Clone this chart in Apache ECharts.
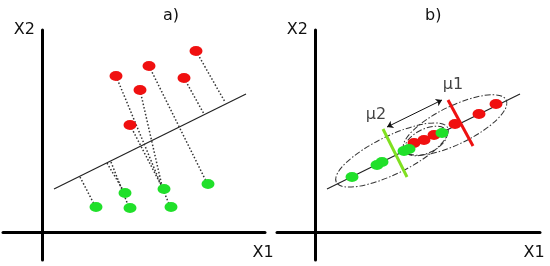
<!DOCTYPE html>
<html>
<head>
<meta charset="utf-8">
<script src="https://cdn.jsdelivr.net/npm/echarts@6/dist/echarts.min.js"></script>
<style>
  html, body { margin: 0; background: #fff; }
  #chart { width: 550px; height: 266px; }
</style>
</head>
<body>
<div id="chart"></div>
<script>
// X1 / X2 coordinates, origin where the two axes cross
// panel a)
var redA = [[154, 181], [142, 154], [107, 166], [98, 142], [74, 156], [88, 107]];
var greenA = [[54, 25], [83, 39], [88, 24], [122, 43], [129, 25], [166, 48]];
var lineA = [[12, 43], [204, 138]];
var dotsA = [
  [[154, 181], [183, 130]],
  [[142, 154], [162, 118]],
  [[107, 166], [164, 51]],
  [[98, 142], [120, 46]],
  [[74, 156], [127, 28]],
  [[88, 107], [119, 47]],
  [[38, 55], [52, 28]],
  [[65, 69], [81, 42]],
  [[69, 70], [86, 27]]
];

// panel b)
var redB = [[99, 89], [109, 92], [119, 97], [140, 108], [164, 118], [181, 128]];
var greenB = [[37, 55], [62, 67], [67, 70], [89, 81], [94, 83], [127, 99]];
var lineB = [[12, 43], [205, 138]];
var barGreenB = [[68, 103], [92, 55]];
var barRedB = [[133, 132], [158, 86]];
var arrowB = [[72, 105], [127, 132]];
var meanLabels = [{ name: "μ2", value: [61, 117] }, { name: "μ1", value: [138, 147] }];
// centre x, centre y, half length, half width, tilt in degrees
var ellipsesB = [[77, 77, 62, 19, 26], [140, 107, 57, 19, 26], [111, 91, 23, 12, 26]];

var axisNames = ["X1", "X2"];
var panelTitles = ["a)", "b)"];

var FONT = "DejaVu Sans";
var myChart = echarts.init(document.getElementById("chart"));

function xAx(idx, min, max, gap) {
  return {
    type: "value", gridIndex: idx, min: min, max: max,
    name: axisNames[0], nameLocation: "end", nameGap: gap,
    nameTextStyle: { fontFamily: FONT, fontSize: 16, color: "#111", align: "center", verticalAlign: "top", padding: [13, 0, 0, 0] },
    axisLine: { onZero: true, lineStyle: { color: "#000", width: 3 } },
    axisTick: { show: false }, axisLabel: { show: false }, splitLine: { show: false }
  };
}
function yAx(idx) {
  return {
    type: "value", gridIndex: idx, min: -28, max: 202,
    name: axisNames[1], nameLocation: "end", nameGap: 0,
    nameTextStyle: { fontFamily: FONT, fontSize: 16, color: "#111", align: "right", verticalAlign: "middle", padding: [0, 7, 0, 0] },
    axisLine: { onZero: true, lineStyle: { color: "#000", width: 3 } },
    axisTick: { show: false }, axisLabel: { show: false }, splitLine: { show: false }
  };
}
function seg(idx, pts, color, width, type, z) {
  return {
    type: "line", xAxisIndex: idx, yAxisIndex: idx, data: pts, symbol: "none",
    lineStyle: { color: color, width: width, type: type || "solid" }, silent: true, z: z || 2
  };
}
function dots(idx, pts, color, z) {
  return {
    type: "scatter", xAxisIndex: idx, yAxisIndex: idx, data: pts,
    symbol: "circle", symbolSize: [13, 10], itemStyle: { color: color, opacity: 1 }, silent: true, z: z || 5
  };
}

var option = {
  animation: false,
  title: [
    { text: panelTitles[0], left: 158, top: 3, textStyle: { fontFamily: FONT, fontSize: 16, fontWeight: "normal", color: "#111" } },
    { text: panelTitles[1], left: 420, top: 3, textStyle: { fontFamily: FONT, fontSize: 16, fontWeight: "normal", color: "#111" } }
  ],
  grid: [
    { left: 3, top: 30, width: 262, height: 230 },
    { left: 277, top: 30, width: 263, height: 230 }
  ],
  xAxis: [xAx(0, -39, 223, -2), xAx(1, -38, 225, -6)],
  yAxis: [yAx(0), yAx(1)],
  series: [
    seg(0, lineA, "#222", 1.2),
    {
      type: "lines", coordinateSystem: "cartesian2d", xAxisIndex: 0, yAxisIndex: 0,
      data: dotsA.map(function (c) { return { coords: c }; }),
      lineStyle: { color: "#333", width: 1.5, type: [1.5, 2], opacity: 1 }, silent: true, z: 3
    },
    dots(0, redA, "#f01010"),
    dots(0, greenA, "#20e02a"),

    {
      type: "custom", xAxisIndex: 1, yAxisIndex: 1, data: ellipsesB, silent: true, z: 3, clip: false,
      renderItem: function (params, api) {
        var c = api.coord([api.value(0), api.value(1)]);
        var s = api.size([api.value(2), api.value(3)]);
        return {
          type: "ellipse",
          x: c[0], y: c[1],
          rotation: api.value(4) * Math.PI / 180,
          shape: { cx: 0, cy: 0, rx: s[0], ry: s[1] },
          style: { fill: "none", stroke: "#333", lineWidth: 1, lineDash: [6, 2, 1.5, 2] }
        };
      }
    },
    seg(1, lineB, "#222", 1.2),
    seg(1, barGreenB, "#80e020", 3, "solid", 4),
    seg(1, barRedB, "#ee1111", 3, "solid", 4),
    {
      type: "lines", coordinateSystem: "cartesian2d", xAxisIndex: 1, yAxisIndex: 1,
      data: [{ coords: arrowB }],
      symbol: ["arrow", "arrow"], symbolSize: 6,
      lineStyle: { color: "#111", width: 1, opacity: 1 }, silent: true, z: 4
    },
    dots(1, redB, "#f01010", 5),
    dots(1, greenB, "#20e02a", 6),
    {
      type: "scatter", xAxisIndex: 1, yAxisIndex: 1, data: meanLabels, symbolSize: 0, silent: true, z: 7,
      label: { show: true, position: "inside", formatter: "{b}", fontFamily: FONT, fontSize: 16, color: "#111" }
    }
  ]
};
myChart.setOption(option);
</script>
</body>
</html>
